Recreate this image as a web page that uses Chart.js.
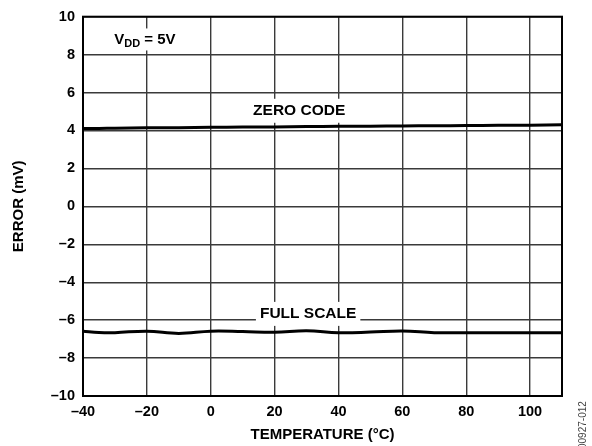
<!DOCTYPE html>
<html>
<head>
<meta charset="utf-8">
<script src="https://cdn.jsdelivr.net/npm/chart.js@4"></script>
<style>
  html, body { margin: 0; padding: 0; background: #fff; }
  #wrap { width: 592px; height: 446px; }
</style>
</head>
<body>
<div id="wrap"><canvas id="chart" width="592" height="446"></canvas></div>
<script>
// values
const temps = [-40, -35, -30, -20, -10, 0, 10, 20, 30, 40, 50, 60, 70, 80, 90, 100, 110];
const zeroCode = [4.10, 4.11, 4.12, 4.14, 4.15, 4.17, 4.18, 4.19, 4.21, 4.22, 4.23, 4.24, 4.25, 4.26, 4.27, 4.28, 4.30];
const fullScale = [-6.58, -6.65, -6.66, -6.58, -6.70, -6.58, -6.60, -6.64, -6.56, -6.66, -6.63, -6.57, -6.66, -6.67, -6.67, -6.67, -6.67];
const xTicks = [-40, -20, 0, 20, 40, 60, 80, 100];
const yTicks = [-10, -8, -6, -4, -2, 0, 2, 4, 6, 8, 10];

const FONT = '"Liberation Sans", Arial, sans-serif';

function dash(v) {
    return v < 0 ? '\u2013' + Math.abs(v) : String(v);
}

function toXY(ys) {
    return temps.map((t, i) => ({x: t, y: ys[i]}));
}

// labels in the plot with white boxes over the grid
const notes = {
    id: 'notes',
    beforeDatasetsDraw(chart) {
        const ctx = chart.ctx;
        const xs = chart.scales.x, ys = chart.scales.y;
        ctx.save();
        ctx.font = 'bold 15.5px ' + FONT;
        ctx.textBaseline = 'middle';
        ctx.textAlign = 'center';
        [['ZERO CODE', 27.7, 5.04], ['FULL SCALE', 30.5, -5.67]].forEach(n => {
            let px = xs.getPixelForValue(n[1]);
            let py = ys.getPixelForValue(n[2]);
            let w = ctx.measureText(n[0]).width;
            ctx.fillStyle = '#fff';
            ctx.fillRect(px - w / 2 - 4, py - 12, w + 8, 24);
            ctx.fillStyle = '#000';
            ctx.fillText(n[0], px, py);
        });

        // VDD = 5V
        let vx = xs.getPixelForValue(-30.2);
        let vy = ys.getPixelForValue(8.8);
        ctx.textAlign = 'left';
        ctx.font = 'bold 15px ' + FONT;
        let w1 = ctx.measureText('V').width;
        ctx.font = 'bold 11px ' + FONT;
        let w2 = ctx.measureText('DD').width;
        ctx.font = 'bold 15px ' + FONT;
        let w3 = ctx.measureText(' = 5V').width;
        ctx.fillStyle = '#fff';
        ctx.fillRect(vx - 3, vy - 11, w1 + w2 + w3 + 6, 22);
        ctx.fillStyle = '#000';
        ctx.fillText('V', vx, vy);
        ctx.font = 'bold 11px ' + FONT;
        ctx.fillText('DD', vx + w1, vy + 5);
        ctx.font = 'bold 15px ' + FONT;
        ctx.fillText(' = 5V', vx + w1 + w2, vy);
        ctx.restore();
    },
    afterDatasetsDraw(chart) {
        const ctx = chart.ctx;
        const a = chart.chartArea;
        ctx.save();
        ctx.strokeStyle = '#000';
        ctx.lineWidth = 2;
        ctx.strokeRect(a.left, a.top, a.right - a.left, a.bottom - a.top);
        // figure id
        ctx.translate(583, 449);
        ctx.rotate(-Math.PI / 2);
        ctx.font = '10px ' + FONT;
        ctx.fillStyle = '#444';
        ctx.textAlign = 'left';
        ctx.textBaseline = 'middle';
        ctx.fillText('00927-012', 0, 0);
        ctx.restore();
    }
};

let chart = new Chart(document.getElementById('chart'), {
    type: 'line',
    data: {
        datasets: [{
            label: 'ZERO CODE',
            data: toXY(zeroCode),
            borderColor: '#000',
            borderWidth: 3,
            pointRadius: 0,
            tension: 0.4
        }, {
            label: 'FULL SCALE',
            data: toXY(fullScale),
            borderColor: '#000',
            borderWidth: 3,
            pointRadius: 0,
            tension: 0.4
        }]
    },
    options: {
        responsive: false,
        animation: false,
        layout: {padding: {left: 0, right: 30, top: 13, bottom: 0}},
        plugins: {legend: {display: false}, tooltip: {enabled: false}},
        scales: {
            x: {
                type: 'linear',
                min: -40,
                max: 110,
                afterBuildTicks: s => { s.ticks = xTicks.map(v => ({value: v})); },
                afterFit: s => { s.height = 50; },
                grid: {color: '#3a3a3a', lineWidth: 1.4, drawTicks: false},
                border: {display: false},
                ticks: {
                    padding: 7,
                    color: '#000',
                    font: {family: FONT, size: 14.5, weight: 'bold'},
                    callback: v => dash(v)
                },
                title: {
                    display: true,
                    text: 'TEMPERATURE (°C)',
                    color: '#000',
                    font: {family: FONT, size: 15, weight: 'bold'},
                    padding: {top: 0, bottom: 2}
                }
            },
            y: {
                min: -10,
                max: 10,
                afterBuildTicks: s => { s.ticks = yTicks.map(v => ({value: v})); },
                afterFit: s => { s.width = 83; },
                grid: {color: '#3a3a3a', lineWidth: 1.4, drawTicks: false},
                border: {display: false},
                ticks: {
                    padding: 8,
                    color: '#000',
                    font: {family: FONT, size: 14.5, weight: 'bold'},
                    callback: v => dash(v)
                },
                title: {
                    display: true,
                    text: 'ERROR (mV)',
                    color: '#000',
                    font: {family: FONT, size: 15, weight: 'bold'},
                    padding: {top: 10, bottom: 0}
                }
            }
        }
    },
    plugins: [notes]
});
</script>
</body>
</html>
